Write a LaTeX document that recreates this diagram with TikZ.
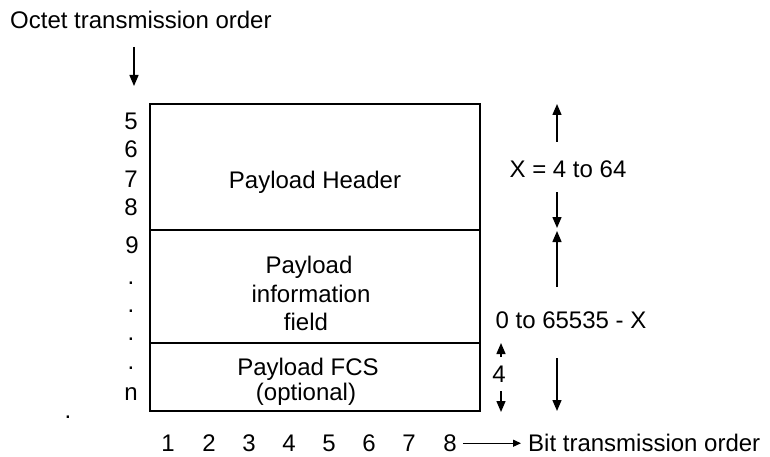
\documentclass[tikz,border=0pt]{standalone}
\usepackage{fontspec}
\setmainfont{Liberation Sans}
\usetikzlibrary{arrows.meta}
\begin{document}
\begin{tikzpicture}[x=1pt,y=-1pt,
  lbl/.style={font=\fontsize{24}{28}\selectfont, inner sep=0pt, anchor=base},
  field/.style={draw, line width=1.6pt, inner sep=0pt, minimum width=330pt},
  arr/.style={line width=1.4pt, -{Triangle[width=9pt,length=11pt]}},
  smallarr/.style={line width=1.4pt, -{Triangle[width=7pt,length=8pt]}},
]
\useasboundingbox (0,0) rectangle (770,457);

% frame fields
\node[field, minimum height=126pt] (hdr) at (315,167) {};
\node[field, minimum height=113pt] (info) at (315,286.5) {};
\node[field, minimum height=68pt]  (fcs) at (315,377) {};

% field texts
\node[lbl] (thdr) at (315,188) {Payload Header};
\node[lbl] (tinfo1) at (309,273) {Payload};
\node[lbl] (tinfo2) at (311,302) {information};
\node[lbl] (tinfo3) at (306,330) {field};
\node[lbl] (tfcs1) at (308,375) {Payload FCS};
\node[lbl] (tfcs2) at (306,400) {(optional)};

% octet order
\node[lbl, anchor=base west] (octet) at (10,29) {Octet transmission order};
\coordinate (oa) at (134,47);
\coordinate (ob) at (134,86);
\draw[arr] (oa) -- (ob);

% octet numbers
\node[lbl] (o5) at (131,130) {5};
\node[lbl] (o6) at (131,158) {6};
\node[lbl] (o7) at (131,187) {7};
\node[lbl] (o8) at (131,215) {8};
\node[lbl] (o9) at (132,253) {9};
\node[lbl] (d1) at (131,284) {.};
\node[lbl] (d2) at (131,312) {.};
\node[lbl] (d3) at (131,340) {.};
\node[lbl] (d4) at (131,369) {.};
\node[lbl] (on) at (131,400) {n};
\node[lbl] (stray) at (68,418) {.};

% header length
\node[lbl] (xlen) at (568,178) {X = 4 to 64};
\coordinate (x1) at (557,142);
\coordinate (x2) at (557,104);
\coordinate (x3) at (557,192);
\coordinate (x4) at (557,228);
\draw[arr] (x1) -- (x2);
\draw[arr] (x3) -- (x4);

% payload length
\node[lbl] (plen) at (571,328) {0 to 65535 - X};
\coordinate (p1) at (557,287);
\coordinate (p2) at (557,231);
\coordinate (p3) at (557,358);
\coordinate (p4) at (557,411);
\draw[arr] (p1) -- (p2);
\draw[arr] (p3) -- (p4);

% FCS length
\node[lbl] (flen) at (499,382) {4};
\coordinate (f1) at (501,357);
\coordinate (f2) at (501,343);
\coordinate (f3) at (501,391);
\coordinate (f4) at (501,412);
\draw[arr] (f1) -- (f2);
\draw[arr] (f3) -- (f4);

% bit numbers
\foreach \i/\xx in {1/168,2/209,3/249,4/289,5/329,6/369,7/409,8/450}
  \node[lbl] (b\i) at (\xx,451.5) {\i};
\node[lbl, anchor=base west] (bit) at (528,451.5) {Bit transmission order};
\draw[smallarr] ([xshift=6pt]b8.east) -- ([xshift=-7pt]bit.west |- b8.east);
\end{tikzpicture}
\end{document}
